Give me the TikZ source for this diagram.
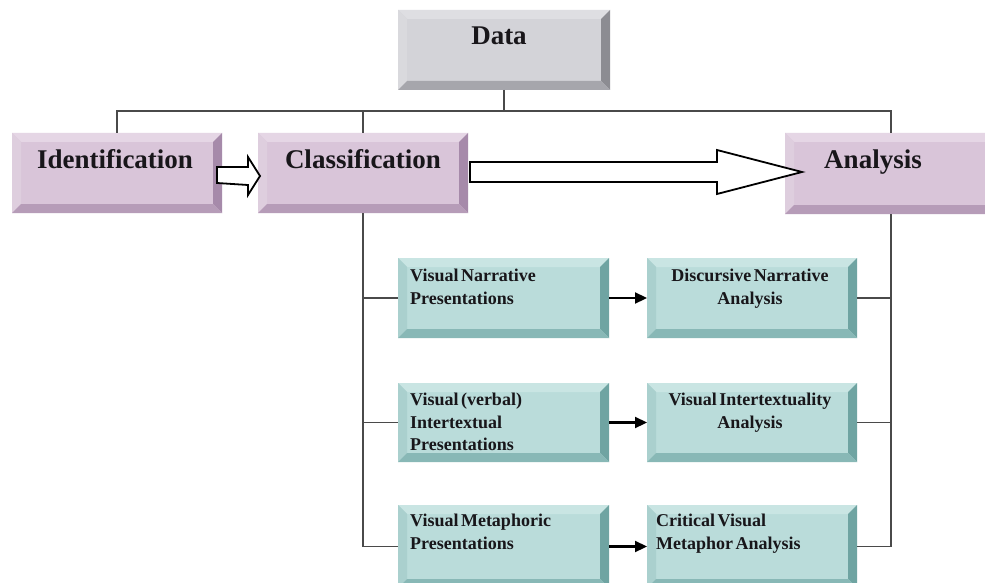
\documentclass[tikz,border=0pt]{standalone}
\usepackage{fontspec}
\setmainfont{Liberation Serif}
\newfontfamily\tealfont{Liberation Serif}[WordSpace=0.55]
\usetikzlibrary{calc,arrows.meta}
\definecolor{txt}{HTML}{18161A}
\definecolor{conn}{HTML}{4A4A4A}
\tikzset{
  bevelbox/.style n args={5}{draw=none, fill=#1, inner sep=0pt, outer sep=0pt,
    path picture={
      \coordinate (bNW) at (path picture bounding box.north west);
      \coordinate (bNE) at (path picture bounding box.north east);
      \coordinate (bSW) at (path picture bounding box.south west);
      \coordinate (bSE) at (path picture bounding box.south east);
      \fill[#2] (bNW) -- (bNE) -- ($(bNE)+(-9pt,-9pt)$) -- ($(bNW)+(9pt,-9pt)$) -- cycle;
      \fill[#3] (bNW) -- (bSW) -- ($(bSW)+(9pt,9pt)$) -- ($(bNW)+(9pt,-9pt)$) -- cycle;
      \fill[#4] (bNE) -- (bSE) -- ($(bSE)+(-9pt,9pt)$) -- ($(bNE)+(-9pt,-9pt)$) -- cycle;
      \fill[#5] (bSW) -- (bSE) -- ($(bSE)+(-9pt,9pt)$) -- ($(bSW)+(9pt,9pt)$) -- cycle;
    }},
  graybox/.style={bevelbox={grayF}{grayT}{grayL}{grayR}{grayB}},
  purplebox/.style={bevelbox={purF}{purT}{purL}{purR}{purB}},
  tealbox/.style={bevelbox={tealF}{tealT}{tealL}{tealR}{tealB}},
  bigtext/.style={font=\fontsize{27}{32}\selectfont\bfseries, text=txt, inner sep=0pt},
  tealtext/.style={font=\tealfont\fontsize{18}{22.5}\selectfont\bfseries, text=txt, inner sep=0pt},
  conline/.style={draw=conn, line width=1.8pt},
  hollow/.style={draw=black, fill=white, line width=1.8pt, line join=miter},
  smallarrow/.style={draw=black, line width=2.2pt, -{Triangle[length=12pt,width=11pt]}}
}
\definecolor{grayF}{HTML}{D3D3D8}
\definecolor{grayT}{HTML}{DEDEE2}
\definecolor{grayL}{HTML}{D9D9DD}
\definecolor{grayR}{HTML}{8C8C92}
\definecolor{grayB}{HTML}{A6A6AC}
\definecolor{purF}{HTML}{D9C5D9}
\definecolor{purT}{HTML}{E5D6E5}
\definecolor{purL}{HTML}{DECEDE}
\definecolor{purR}{HTML}{A68AAA}
\definecolor{purB}{HTML}{B69CB8}
\definecolor{tealF}{HTML}{BADCDA}
\definecolor{tealT}{HTML}{C9E5E3}
\definecolor{tealL}{HTML}{AAD0CE}
\definecolor{tealR}{HTML}{6FA4A2}
\definecolor{tealB}{HTML}{88B8B6}
\begin{document}
\begin{tikzpicture}[x=1pt,y=-1pt]
\useasboundingbox (0,0) rectangle (985,583);
\fill[white] (0,0) rectangle (985,583);
\clip (0,0) rectangle (985,583);
% boxes
\node[graybox, minimum width=212pt, minimum height=80pt] (data) at (504,50) {};
\node[purplebox, minimum width=210pt, minimum height=80pt] (ident) at (117,173) {};
\node[purplebox, minimum width=210pt, minimum height=80pt] (class) at (363,173) {};
\node[purplebox, minimum width=212pt, minimum height=81pt] (anal) at (891,173.5) {};
\node[tealbox, minimum width=211pt, minimum height=80pt] (v1) at (503.5,298) {};
\node[tealbox, minimum width=210pt, minimum height=80pt] (d1) at (752,298) {};
\node[tealbox, minimum width=211pt, minimum height=79pt] (v2) at (503.5,422.5) {};
\node[tealbox, minimum width=210pt, minimum height=79pt] (d2) at (752,422.5) {};
\node[tealbox, minimum width=211pt, minimum height=83pt] (v3) at (503.5,546.5) {};
\node[tealbox, minimum width=210pt, minimum height=83pt] (d3) at (752,546.5) {};
% texts
\node[bigtext, anchor=base] (dataT) at ($(data.north)+(-5,35)$) {Data};
\node[bigtext, anchor=base] (identT) at ($(ident.north)+(-2,35)$) {Identification};
\node[bigtext, anchor=base] (classT) at ($(class.north)+(0,35)$) {Classification};
\node[bigtext, anchor=base] (analT) at ($(anal.north)+(-18,35)$) {Analysis};
\node[tealtext, align=left, anchor=north west] (v1T) at ($(v1.north west)+(12,11)$) {Visual Narrative\\Presentations};
\node[tealtext, align=center, anchor=north] (d1T) at ($(d1.north)+(-2,11)$) {Discursive Narrative\\Analysis};
\node[tealtext, align=left, anchor=north west] (v2T) at ($(v2.north west)+(12,10)$) {Visual (verbal)\\Intertextual\\Presentations};
\node[tealtext, align=center, anchor=north] (d2T) at ($(d2.north)+(-2,10)$) {Visual Intertextuality\\Analysis};
\node[tealtext, align=left, anchor=north west] (v3T) at ($(v3.north west)+(12,9)$) {Visual Metaphoric\\Presentations};
\node[tealtext, align=left, anchor=north west] (d3T) at ($(d3.north west)+(9,9)$) {Critical Visual\\Metaphor Analysis};
% top bus
\coordinate (bus) at (505,111);
\draw[conline] (data.south) -- (data.south |- bus);
\draw[conline] (ident.north) -- (ident.north |- bus) -- (anal.north |- bus) -- (anal.north);
\draw[conline] (class.north) -- (class.north |- bus);
% left branch
\draw[conline] (class.south) -- (class.south |- v3.west) -- (v3.west);
\draw[conline] (v1.west -| class.south) -- (v1.west);
\draw[conline] (v2.west -| class.south) -- (v2.west);
% right branch
\draw[conline] (anal.south) -- (anal.south |- d3.east) -- (d3.east);
\draw[conline] (d1.east) -- (d1.east -| anal.south);
\draw[conline] (d2.east) -- (d2.east -| anal.south);
% small arrows
\draw[smallarrow] (v1.east) -- (d1.west);
\draw[smallarrow] (v2.east) -- (d2.west);
\draw[smallarrow] (v3.east) -- (d3.west);
% hollow arrows
\coordinate (sa) at ($(ident.east)+(-5,2)$);
\coordinate (sb) at ($(class.west)+(2,3)$);
\draw[hollow] ($(sa)+(0,-8)$) -- ($(sb)+(-12,-9)$) -- ($(sb)+(-12,-19)$) -- (sb) -- ($(sb)+(-12,19)$) -- ($(sb)+(-12,9)$) -- ($(sa)+(0,8)$) -- cycle;
\coordinate (sa2) at ($(class.east)+(2,-1)$);
\coordinate (sb2) at ($(anal.west)+(17,-1.5)$);
\draw[hollow] ($(sa2)+(0,-10)$) -- ($(sb2)+(-85,-10)$) -- ($(sb2)+(-85,-22)$) -- (sb2) -- ($(sb2)+(-85,22)$) -- ($(sb2)+(-85,10)$) -- ($(sa2)+(0,10)$) -- cycle;
\end{tikzpicture}
\end{document}
